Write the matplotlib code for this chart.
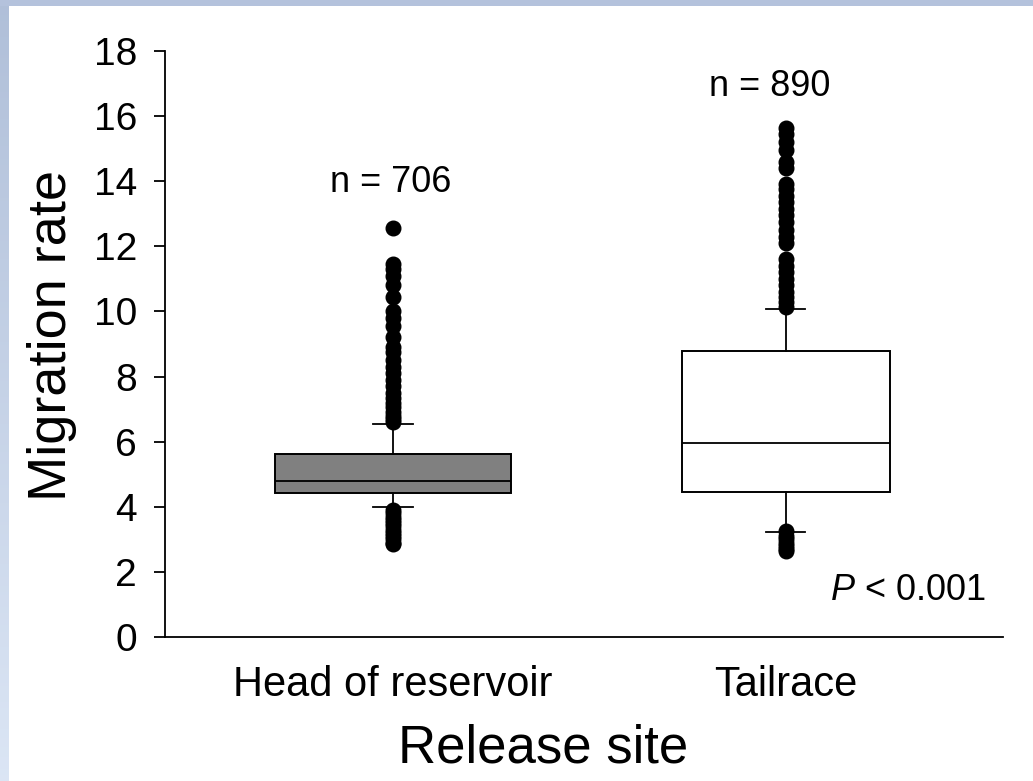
import numpy as np
import matplotlib.pyplot as plt
from matplotlib.patches import Rectangle

# release sites and box summaries
sites = ['Head of reservoir', 'Tailrace']
n_fish = [706, 890]
q1 = [4.42, 4.45]
medians = [4.80, 5.96]
q3 = [5.62, 8.78]
whisk_lo = [3.99, 3.22]
whisk_hi = [6.55, 10.08]
box_colors = ['#808080', 'white']

# outliers (approximate)
head_out = [12.57, 11.45, 11.3, 11.1, 10.8, 10.45, 10.0, 9.8, 9.55, 9.2, 8.9, 8.75,
            8.5, 8.3, 8.1, 7.9, 7.7, 7.5, 7.35, 7.2, 7.05, 6.9, 6.8, 6.7, 6.6,
            3.9, 3.8, 3.7, 3.6, 3.5, 3.4, 3.3, 3.2, 3.1, 3.0, 2.9, 2.85]
tail_out = [15.65, 15.45, 15.2, 14.95, 14.6, 14.4, 13.9, 13.75, 13.55, 13.35, 13.15,
            12.95, 12.75, 12.5, 12.3, 12.1, 11.6, 11.4, 11.2, 11.0, 10.8, 10.6,
            10.45, 10.3, 10.15, 3.25, 3.1, 3.0, 2.9, 2.8, 2.7, 2.65]
fliers = [head_out, tail_out]

p_text = '< 0.001'

plt.rcParams['font.family'] = ['Liberation Sans', 'DejaVu Sans']
plt.rcParams['mathtext.fontset'] = 'custom'
plt.rcParams['mathtext.it'] = 'Liberation Sans:italic'
plt.rcParams['mathtext.rm'] = 'Liberation Sans'

fig = plt.figure(figsize=(10.33, 7.81), dpi=100)

# blue frame strips along the left and top edges
grad = np.linspace(0, 1, 256).reshape(-1, 1)
strip = fig.add_axes([0, 0, 9 / 1033, 1])
c_top = np.array([0.69, 0.75, 0.85])
c_bot = np.array([0.86, 0.90, 0.96])
img = c_top[None, None, :] * (1 - grad[:, :, None]) + c_bot[None, None, :] * grad[:, :, None]
strip.imshow(img, aspect='auto', extent=[0, 1, 0, 1])
strip.axis('off')
fig.patches.append(Rectangle((0, 1 - 6 / 781), 1, 6 / 781, transform=fig.transFigure,
                             facecolor='#b4c2dc', edgecolor='none', zorder=5))

ax = fig.add_axes([165 / 1033, 1 - 637 / 781, 838 / 1033, 586 / 781])

stats = []
for i in range(len(sites)):
    stats.append({'med': medians[i], 'q1': q1[i], 'q3': q3[i],
                  'whislo': whisk_lo[i], 'whishi': whisk_hi[i],
                  'fliers': fliers[i], 'label': sites[i]})

bp = ax.bxp(stats, positions=[1, 2], widths=[0.6, 0.53], patch_artist=True,
            capwidths=0.1,
            boxprops=dict(edgecolor='black', linewidth=1.4),
            medianprops=dict(color='black', linewidth=1.3),
            whiskerprops=dict(color='black', linewidth=1.3),
            capprops=dict(color='black', linewidth=1.3),
            flierprops=dict(marker='o', markerfacecolor='black', markeredgecolor='black',
                            markersize=10.5, linestyle='none'))
for patch, col in zip(bp['boxes'], box_colors):
    patch.set_facecolor(col)

ax.set_xlim(0.42, 2.553)
ax.set_ylim(0, 18)
ax.set_yticks(np.arange(0, 19, 2))
ax.spines['top'].set_visible(False)
ax.spines['right'].set_visible(False)
ax.spines['left'].set_linewidth(1.3)
ax.spines['bottom'].set_linewidth(1.3)
ax.tick_params(axis='y', direction='out', length=8, width=1.3, pad=12, labelsize=28)
ax.tick_params(axis='x', length=0, pad=20, labelsize=30)

ax.set_xlabel('Release site', fontsize=38)
ax.xaxis.set_label_coords(0.451, -0.19, transform=ax.transAxes)
ax.xaxis.label.set_va('center')
ax.set_ylabel('Migration rate', fontsize=39, labelpad=12)
ax.yaxis.label.set_y(0.515)

ax.text(0.995, 13.95, 'n = %d' % n_fish[0], ha='center', va='center', fontsize=26)
ax.text(1.96, 16.9, 'n = %d' % n_fish[1], ha='center', va='center', fontsize=26)
ax.text(2.51, 1.44, r'$\it{P}$ ' + p_text, ha='right', va='center', fontsize=26)

fig.savefig('out.png', dpi=100)
